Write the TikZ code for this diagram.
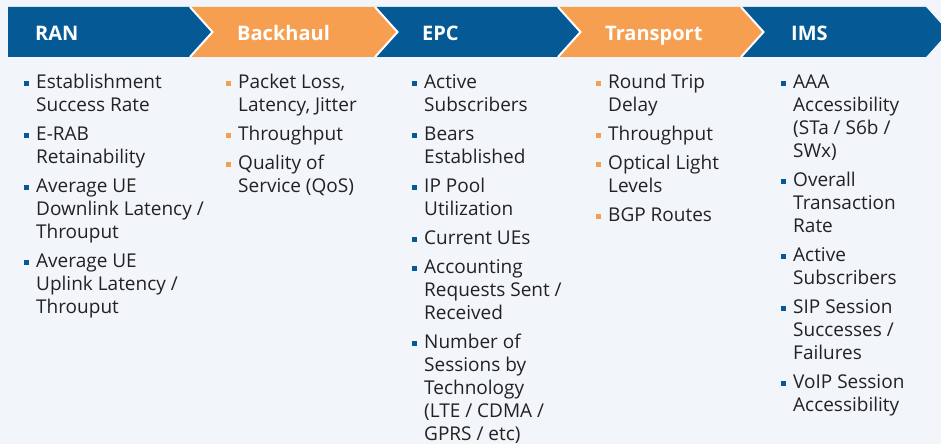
\documentclass[tikz,border=0pt]{standalone}
\usepackage{fontspec}
\setmainfont{Open Sans}
\definecolor{stageblue}{HTML}{055A96}
\definecolor{stageorange}{HTML}{F79F50}
\definecolor{pagebg}{HTML}{F2F5F9}
\definecolor{bodytext}{HTML}{222222}

% one metric entry: name, x, first baseline y, bullet colour, lines
\newcommand\metricitem[5]{%
  \node[metric] (#1) at (#2,#3) {\parbox[t]{175pt}{\raggedright #5}};
  \node[bulletmark=#4] (#1-b) at ([xshift=-9.5pt,yshift=4.5pt]#1.base west) {};
}

\tikzset{
  headtext/.style={anchor=base west, inner sep=0pt, text=white,
    font=\fontsize{20}{24}\selectfont\bfseries},
  metric/.style={anchor=base west, inner sep=0pt, text=bodytext,
    font=\fontsize{19}{23}\selectfont},
  bulletmark/.style={fill=#1, minimum size=5pt, inner sep=0pt, outer sep=0pt},
  separator/.style={draw=white, line width=2pt, line join=miter},
}

\begin{document}
\begin{tikzpicture}[x=1pt, y=-1pt]
  \useasboundingbox (0,0) rectangle (941,444);
  \clip (0,0) rectangle (941,444);
  \fill[pagebg] (0,0) rectangle (941,444);

  % chevron band
  \fill[stageblue]   (8,7) -- (190,7) -- (212.5,32) -- (190,57) -- (8,57) -- cycle;
  \fill[stageorange] (190,7) -- (375,7) -- (397.5,32) -- (375,57) -- (190,57) -- (212.5,32) -- cycle;
  \fill[stageblue]   (375,7) -- (558,7) -- (580.5,32) -- (558,57) -- (375,57) -- (397.5,32) -- cycle;
  \fill[stageorange] (558,7) -- (741,7) -- (763.5,32) -- (741,57) -- (558,57) -- (580.5,32) -- cycle;
  \fill[stageblue]   (741,7) -- (926,7) -- (948.5,32) -- (926,57) -- (741,57) -- (763.5,32) -- cycle;
  \draw[separator] (190,7) -- (212.5,32) -- (190,57);
  \draw[separator] (375,7) -- (397.5,32) -- (375,57);
  \draw[separator] (558,7) -- (580.5,32) -- (558,57);
  \draw[separator] (741,7) -- (763.5,32) -- (741,57);

  \node[headtext] (ran)       at (35,40.5)  {RAN};
  \node[headtext] (backhaul)  at (237,40.5) {Backhaul};
  \node[headtext] (epc)       at (422,40.5) {EPC};
  \node[headtext] (transport) at (605,40.5) {Transport};
  \node[headtext] (ims)       at (791,40.5) {IMS};

  % RAN
  \metricitem{ran1}{36}{88}{stageblue}{Establishment\\Success Rate}
  \metricitem{ran2}{36}{140}{stageblue}{E-RAB\\Retainability}
  \metricitem{ran3}{36}{192}{stageblue}{Average UE\\Downlink Latency /\\Throuput}
  \metricitem{ran4}{36}{267}{stageblue}{Average UE\\Uplink Latency /\\Throuput}

  % Backhaul
  \metricitem{bh1}{238}{88}{stageorange}{Packet Loss,\\Latency, Jitter}
  \metricitem{bh2}{238}{140}{stageorange}{Throughput}
  \metricitem{bh3}{238}{169}{stageorange}{Quality of\\Service (QoS)}

  % EPC
  \metricitem{epc1}{424}{88}{stageblue}{Active\\Subscribers}
  \metricitem{epc2}{424}{140}{stageblue}{Bears\\Established}
  \metricitem{epc3}{424}{192}{stageblue}{IP Pool\\Utilization}
  \metricitem{epc4}{424}{244}{stageblue}{Current UEs}
  \metricitem{epc5}{424}{273}{stageblue}{Accounting\\Requests Sent /\\Received}
  \metricitem{epc6}{424}{348}{stageblue}{Number of\\Sessions by\\Technology\\(LTE / CDMA /\\GPRS / etc)}

  % Transport
  \metricitem{tr1}{608}{88}{stageorange}{Round Trip\\Delay}
  \metricitem{tr2}{608}{140}{stageorange}{Throughput}
  \metricitem{tr3}{608}{169}{stageorange}{Optical Light\\Levels}
  \metricitem{tr4}{608}{221}{stageorange}{BGP Routes}

  % IMS
  \metricitem{ims1}{793}{88}{stageblue}{AAA\\Accessibility\\(STa / S6b /\\SWx)}
  \metricitem{ims2}{793}{186}{stageblue}{Overall\\Transaction\\Rate}
  \metricitem{ims3}{793}{261}{stageblue}{Active\\Subscribers}
  \metricitem{ims4}{793}{313}{stageblue}{SIP Session\\Successes /\\Failures}
  \metricitem{ims5}{793}{388}{stageblue}{VoIP Session\\Accessibility}
\end{tikzpicture}
\end{document}
